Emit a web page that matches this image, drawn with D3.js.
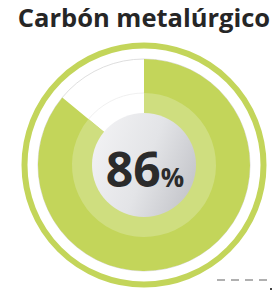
<!DOCTYPE html>
<head>
<meta charset="utf-8">
<title>Carbón metalúrgico</title>
<style>
    body { margin:0; background:#fff; }
    svg { display:block; }
</style>
</head>
<body>
<svg width="273" height="292"></svg>
<script src="https://cdnjs.cloudflare.com/ajax/libs/d3/7.8.5/d3.min.js"></script>
<script>
var titles = ["Carbón metalúrgico"];
var labels = ["usado", "resto"];
var values = [86, 14];

var svg = d3.select("svg");
var cx = 144, cy = 165;

// gradient para el disco gris del centro
var defs = svg.append("defs");
var grad = defs.append("linearGradient")
    .attr("id", "centro")
    .attr("x1", "0%").attr("y1", "20%").attr("x2", "100%").attr("y2", "60%");
grad.append("stop").attr("offset", "0%").attr("stop-color", "#f2f2f4");
grad.append("stop").attr("offset", "55%").attr("stop-color", "#e3e4e7");
grad.append("stop").attr("offset", "100%").attr("stop-color", "#c6c7cc");

svg.append("text")
    .attr("x", 144).attr("y", 27)
    .attr("text-anchor", "middle")
    .style("font-family", "'Open Sans', sans-serif")
    .style("font-weight", "bold")
    .style("font-size", "25.5px")
    .attr("fill", "#262626")
    .text(titles[0]);

var g = svg.append("g").attr("transform", "translate(" + cx + "," + cy + ")");

// anillo exterior
g.append("circle").attr("r", 119.5)
    .attr("fill", "none").attr("stroke", "#c3d55a").attr("stroke-width", 6);

// fondo blanco con contorno
g.append("circle").attr("r", 106).attr("fill", "#fff").attr("stroke", "#d6d6d6").attr("stroke-width", 0.8);
g.append("circle").attr("r", 72).attr("fill", "#fff").attr("stroke", "#ececec").attr("stroke-width", 0.8);

var pie = d3.pie().sort(null);
var arcs = pie(values);

var outer = d3.arc().innerRadius(0).outerRadius(106);
var inner = d3.arc().innerRadius(0).outerRadius(72);

g.selectAll("path.outer")
    .data(arcs.slice(0, 1))
    .enter().append("path")
    .attr("class", "outer")
    .attr("d", outer)
    .attr("fill", "#c3d55a");

g.selectAll("path.inner")
    .data(arcs.slice(0, 1))
    .enter().append("path")
    .attr("class", "inner")
    .attr("d", inner)
    .attr("fill", "#cfde7f");

g.append("circle").attr("r", 52).attr("fill", "url(#centro)");

var t = g.append("text")
    .attr("x", 1).attr("y", 22)
    .attr("text-anchor", "middle")
    .style("font-family", "'Open Sans', sans-serif")
    .style("font-weight", "bold")
    .attr("fill", "#2b2b2b");
t.append("tspan").style("font-size", "48px").text(values[0]);
t.append("tspan").style("font-size", "26px").text("%");

// guiones abajo a la derecha
var dash = d3.range(4);
var xd = d3.scaleLinear().domain([0, 3]).range([217, 259]);
svg.selectAll("line.dash")
    .data(dash)
    .enter().append("line")
    .attr("x1", function(d){ return xd(d); })
    .attr("x2", function(d){ return xd(d) + 8; })
    .attr("y1", 280).attr("y2", 280)
    .attr("stroke", "#b0b0b0").attr("stroke-width", 2);
svg.append("rect").attr("x", 270).attr("y", 288).attr("width", 2).attr("height", 2).attr("fill", "#444");
</script>
</body>
